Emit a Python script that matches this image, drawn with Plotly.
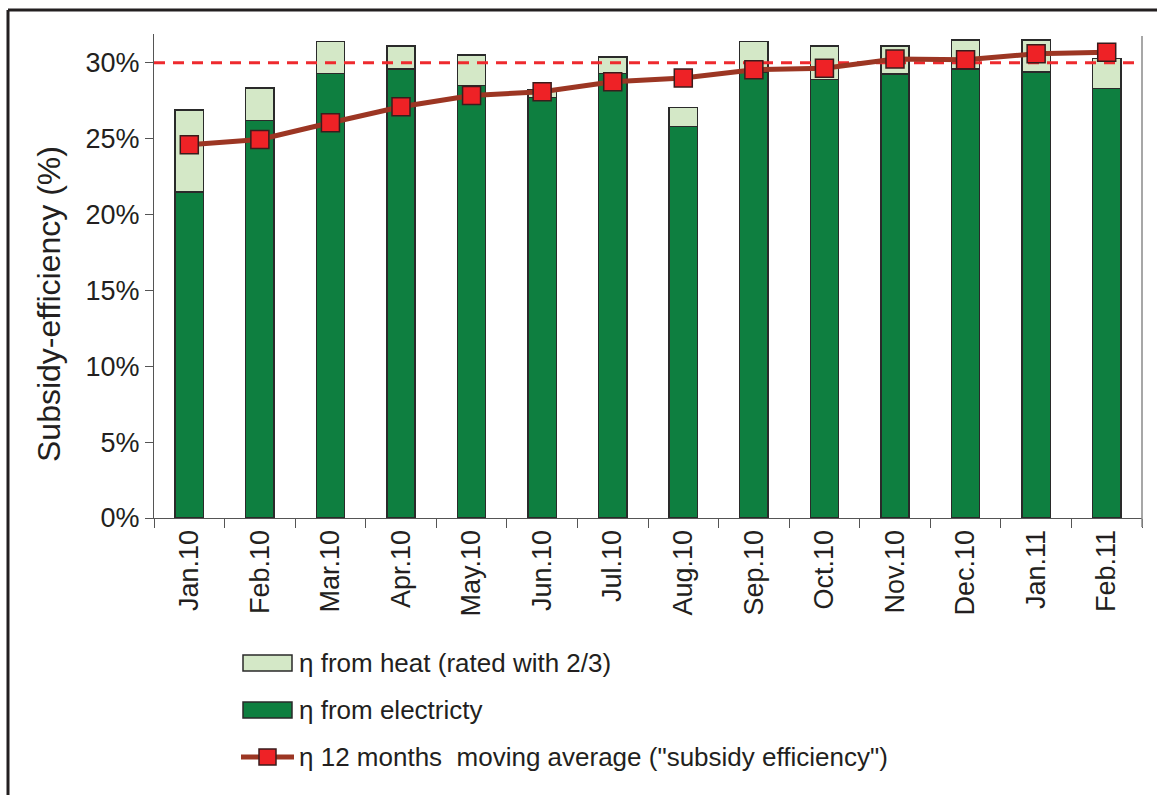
import plotly.graph_objects as go

# Monthly subsidy-efficiency components (%)
months = ["Jan.10", "Feb.10", "Mar.10", "Apr.10", "May.10", "Jun.10", "Jul.10",
          "Aug.10", "Sep.10", "Oct.10", "Nov.10", "Dec.10", "Jan.11", "Feb.11"]
eta_electricity = [21.5, 26.2, 29.3, 29.6, 28.5, 27.7, 29.3,
                   25.8, 29.4, 28.9, 29.25, 29.6, 29.4, 28.3]
eta_heat = [5.4, 2.15, 2.1, 1.5, 2.0, 0.55, 1.1,
            1.25, 2.0, 2.2, 1.85, 1.9, 2.1, 2.0]
eta_moving_avg = [24.6, 24.95, 26.05, 27.1, 27.85, 28.1, 28.75,
                  29.0, 29.55, 29.65, 30.25, 30.2, 30.6, 30.7]
target_level = 30.0

W, H = 1157, 795
L, R, T, B = 154, 1142, 34, 518  # plot area in pixels

FONT = "Liberation Sans, Arial, sans-serif"
TXT = "#231f20"
C_ELEC = "#0e7f40"
C_HEAT = "#d4e8c7"
C_EDGE = "#2a2a2a"
C_LINE = "#9c3623"
C_MARK = "#ee2226"
C_TARGET = "#ee2a2e"


def px(x):
    return (x - L) / (R - L)


def py(y):
    return (B - y) / (B - T)


xs = list(range(len(months)))

fig = go.Figure()
fig.add_trace(go.Bar(x=xs, y=eta_electricity, width=0.4, marker=dict(color=C_ELEC, line=dict(color=C_EDGE, width=1.5)),
                     showlegend=False))
fig.add_trace(go.Bar(x=xs, y=eta_heat, width=0.4, marker=dict(color=C_HEAT, line=dict(color=C_EDGE, width=1.5)),
                     showlegend=False))
# 30 % reference level
fig.add_trace(go.Scatter(x=[-0.5, len(months) - 0.5], y=[target_level, target_level], mode="lines",
                         line=dict(color=C_TARGET, width=3, dash="11px,8px"), showlegend=False, hoverinfo="skip"))
fig.add_trace(go.Scatter(x=xs, y=eta_moving_avg, mode="lines+markers",
                         line=dict(color=C_LINE, width=5),
                         marker=dict(symbol="square", size=18, color=C_MARK, line=dict(color="#3a1c1c", width=1.5)),
                         showlegend=False))

shapes = [
    # right frame of the plot area
    dict(type="line", xref="paper", yref="paper", x0=1, x1=1, y0=py(527), y1=py(36),
         line=dict(color="#8a8a8a", width=1.5)),
    # outer border (top and left)
    dict(type="line", xref="paper", yref="paper", x0=px(8), x1=px(1160), y0=py(10), y1=py(10),
         line=dict(color="#231f20", width=3)),
    dict(type="line", xref="paper", yref="paper", x0=px(8), x1=px(8), y0=py(10), y1=py(800),
         line=dict(color="#231f20", width=3)),
    # legend symbols
    dict(type="rect", xref="paper", yref="paper", x0=px(243), x1=px(292), y0=py(671), y1=py(655),
         fillcolor=C_HEAT, line=dict(color=C_EDGE, width=1.5)),
    dict(type="rect", xref="paper", yref="paper", x0=px(243), x1=px(292), y0=py(718), y1=py(702),
         fillcolor=C_ELEC, line=dict(color=C_EDGE, width=1.5)),
    dict(type="line", xref="paper", yref="paper", x0=px(241), x1=px(294), y0=py(757), y1=py(757),
         line=dict(color=C_LINE, width=5)),
    dict(type="rect", xref="paper", yref="paper", x0=px(259), x1=px(276), y0=py(765), y1=py(749),
         fillcolor=C_MARK, line=dict(color="#3a1c1c", width=1.5)),
]

legend_texts = [
    ("\u03b7 from heat (rated with 2/3)", 663),
    ("\u03b7 from electricty", 710),
    ("\u03b7 12 months  moving average (\"subsidy efficiency\")", 757),
]
annotations = [
    dict(text=t, xref="paper", yref="paper", x=px(297), y=py(yy), xanchor="left", yanchor="middle",
         showarrow=False, font=dict(family=FONT, size=26, color=TXT))
    for t, yy in legend_texts
]
annotations.append(dict(text="Subsidy-efficiency (%)", xref="paper", yref="paper", x=px(49), y=py(304),
                        textangle=-90, xanchor="center", yanchor="middle", showarrow=False,
                        font=dict(family=FONT, size=32, color=TXT)))

fig.update_layout(
    width=W, height=H, margin=dict(l=L, r=W - R, t=T, b=H - B),
    paper_bgcolor="white", plot_bgcolor="white",
    barmode="stack", bargap=0.6,
    font=dict(family=FONT, size=26, color=TXT),
    shapes=shapes, annotations=annotations,
    xaxis=dict(range=[-0.5, len(months) - 0.5], tickmode="array", tickvals=xs, ticktext=months,
               tickangle=-90, ticks="", showgrid=False, zeroline=False,
               showline=True, linecolor="#555555", linewidth=1.2,
               tickfont=dict(family=FONT, size=27, color=TXT),
               minor=dict(tickmode="array", tickvals=[i - 0.5 for i in range(len(months) + 1)],
                          ticks="outside", ticklen=9, tickcolor="#555555", tickwidth=1.2, showgrid=False)),
    yaxis=dict(range=[0, 31.9], tickmode="array", tickvals=[0, 5, 10, 15, 20, 25, 30],
               ticktext=["0%", "5%", "10%", "15%", "20%", "25%", "30%"],
               ticks="outside", ticklen=8, tickcolor="#555555", tickwidth=1.2,
               showline=True, linecolor="#555555", linewidth=1.2, showgrid=False, zeroline=False,
               tickfont=dict(family=FONT, size=27, color=TXT)),
)

fig.write_html("out.html")
